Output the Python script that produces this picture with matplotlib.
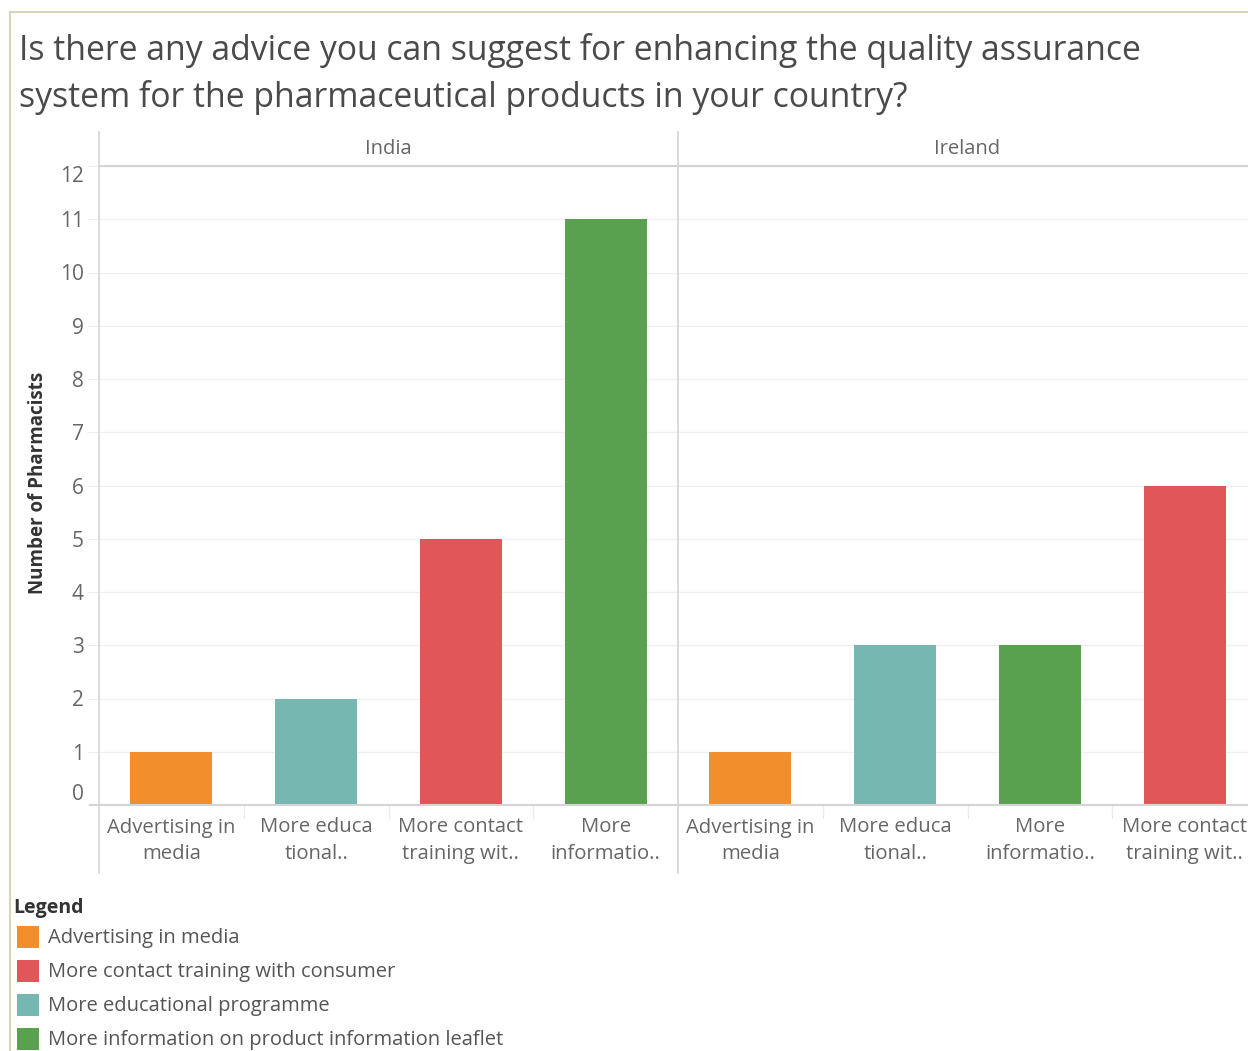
import matplotlib
matplotlib.use('Agg')
import matplotlib.pyplot as plt
from matplotlib.lines import Line2D
from matplotlib.patches import Rectangle

plt.rcParams['font.family'] = ['Open Sans', 'DejaVu Sans']

# data
title_lines = ["Is there any advice you can suggest for enhancing the quality assurance",
               "system for the pharmaceutical products in your country?"]
countries = ["India", "Ireland"]
india_labels = ["Advertising in\nmedia", "More educa\ntional..", "More contact\ntraining wit..", "More\ninformatio.."]
india_series = ["Advertising in media", "More educational programme",
                "More contact training with consumer", "More information on product information leaflet"]
india_vals = [1, 2, 5, 11]
ireland_labels = ["Advertising in\nmedia", "More educa\ntional..", "More\ninformatio..", "More contact\ntraining wit.."]
ireland_series = ["Advertising in media", "More educational programme",
                  "More information on product information leaflet", "More contact training with consumer"]
ireland_vals = [1, 3, 3, 6]
yticks = list(range(0, 13))

colors = {
    "Advertising in media": "#f28e2b",
    "More contact training with consumer": "#e15759",
    "More educational programme": "#76b7b2",
    "More information on product information leaflet": "#59a14f",
}

W, H = 1248, 1051
fig = plt.figure(figsize=(W / 100, H / 100), dpi=100)

def fx(px):
    return px / W

def fy(py):
    return 1 - py / H

# outer border (top + left)
fig.add_artist(Line2D([fx(10), fx(W)], [fy(12), fy(12)], color='#d9d5bd', lw=1.5))
fig.add_artist(Line2D([fx(10), fx(10)], [fy(12), fy(H)], color='#d9d5bd', lw=1.5))

for line, base in zip(title_lines, (60, 107)):
    fig.text(fx(19), fy(base), line, fontsize=24.3, color='#4a4a4a', va='baseline', ha='left')

panel_w = 579
top, bottom = 166, 805
panels = [(99, india_labels, india_series, india_vals),
          (678, ireland_labels, ireland_series, ireland_vals)]

for i, (left, labels, series, vals) in enumerate(panels):
    ax = fig.add_axes([fx(left), fy(bottom), panel_w / W, (bottom - top) / H])
    ax.bar(range(len(vals)), vals, width=0.566, color=[colors[s] for s in series], zorder=2)
    ax.set_xlim(-0.5, 3.5)
    ax.set_ylim(0, 12)
    for s in ax.spines.values():
        s.set_visible(False)
    ax.set_yticks(yticks)
    ax.grid(axis='y', color='#f0f0f0', lw=1, zorder=0)
    ax.set_xticks(range(len(vals)))
    ax.set_xticklabels(labels, fontsize=14.6, color='#666666', linespacing=1.42)
    ax.tick_params(axis='x', length=0, pad=9)
    if i == 0:
        ax.tick_params(axis='y', length=9, color='#eeeeee', labelsize=15, labelcolor='#666666', pad=2)
        tl = ax.get_yticklabels()
        tl[0].set_va('bottom')
        tl[-1].set_va('top')
    else:
        ax.tick_params(axis='y', length=0, labelleft=False)
    # category separators below the baseline
    for k in range(1, 4):
        x = fx(left + panel_w * k / 4)
        fig.add_artist(Line2D([x, x], [fy(806), fy(818)], color='#ececec', lw=1))
    fig.text(fx(left + panel_w / 2), fy(149), countries[i], fontsize=14.5, color='#666666',
             ha='center', va='center')

# frame lines
line_c = '#d4d4d4'
fig.add_artist(Line2D([fx(90), fx(W)], [fy(805), fy(805)], color=line_c, lw=1.5))
fig.add_artist(Line2D([fx(99), fx(W)], [fy(165.5), fy(165.5)], color=line_c, lw=1.5))
for x in (99, 678):
    fig.add_artist(Line2D([fx(x), fx(x)], [fy(132), fy(873)], color=line_c, lw=1.2))

fig.text(fx(38), fy(483), "Number of Pharmacists", rotation=90, fontsize=13.5,
         fontweight='bold', color='#333333', ha='center', va='center')

# legend
fig.text(fx(13), fy(908), "Legend", fontsize=14, fontweight='bold', color='#333333',
         ha='left', va='center')
for j, (name, c) in enumerate(colors.items()):
    yc = 937 + 34 * j
    fig.add_artist(Rectangle((fx(17), fy(yc + 11)), 22 / W, 22 / H, facecolor=c,
                             edgecolor='none', transform=fig.transFigure))
    fig.text(fx(48), fy(yc + 1), name, fontsize=14.5, color='#555555', ha='left', va='center')

fig.savefig('out.png', dpi=100)
